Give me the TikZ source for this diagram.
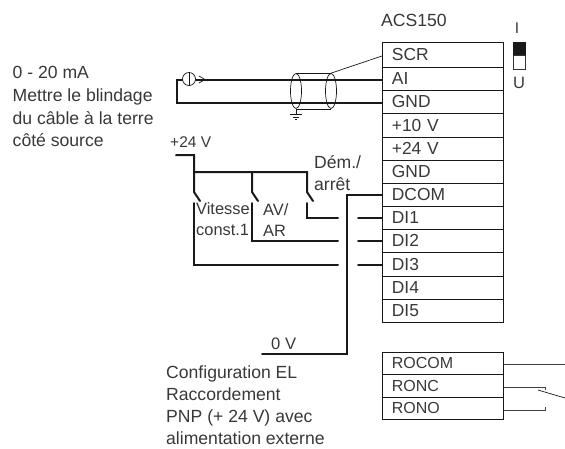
\documentclass[tikz,border=0pt]{standalone}
\usepackage{fontspec}
\usetikzlibrary{shapes.geometric}
\setmainfont{Liberation Sans}
\begin{document}
\begin{tikzpicture}[x=1pt,y=-1pt,
  lab/.style={inner sep=0pt,anchor=base west,text=black!78,font=\fontsize{17.6}{22.6}\selectfont},
  mlab/.style={lab,align=left,anchor=north west},
  slab/.style={mlab,font=\fontsize{16.4}{21.5}\selectfont},
  term/.style={draw=black!90,line width=0.8pt,minimum width=121pt,inner sep=0pt,anchor=north west,text=black!78,font=\fontsize{17.4}{19}\selectfont,align=left,text width=102pt},
  relayterm/.style={term,font=\fontsize{16}{18}\selectfont},
  thick wire/.style={line width=2pt,black!90,line cap=round,line join=miter},
  thin wire/.style={line width=0.7pt,black!90},
  relay wire/.style={line width=1pt,black!75}]
\useasboundingbox (0,0) rectangle (565,448);
\foreach \n/\t/\y/\h in {scr/SCR/42/25,ai/AI/67/23,gnd/GND/90/23,ten/+10 V/113/24,tf/+24 V/137/23,gndb/GND/160/23,dcom/DCOM/183/23,dia/DI1/206/23,dib/DI2/229/23,dic/DI3/252/24,did/DI4/276/23,die/DI5/299/23}
  \node[term,minimum height=\h pt] (\n) at (382,\y) {\t};
\foreach \n/\t/\y/\h/\d in {rocom/ROCOM/352/22/-1.5,ronc/RONC/374/23/0,rono/RONO/397/22/1}
  \node[relayterm,minimum height=\h pt] (\n) at (382,\y) {\raisebox{\d pt}{\t}};
\node[lab] (acs) at (381,26) {ACS150};
\node[lab,anchor=base,font=\fontsize{15.5}{18}\selectfont] (i) at (517,33) {I};
\node[lab,anchor=base,font=\fontsize{16.5}{18}\selectfont] (u) at (519,88) {U};
\node[draw=black!90,fill=black!90,line width=0.6pt,minimum width=12pt,minimum height=13pt,inner sep=0pt,anchor=north west] (swa) at (513,42) {};
\node[draw=black!80,line width=0.8pt,minimum width=12pt,minimum height=14pt,inner sep=0pt,anchor=north west] (swb) at (513,55) {};
\node[mlab] (desc) at (12.5,66.5) {0 - 20 mA\\Mettre le blindage\\du câble à la terre\\côté source};
\node[lab,font=\fontsize{15.5}{18}\selectfont] (pv) at (170,147) {+24 V};
\node[mlab] (dem) at (314,155) {Dém./\\arrêt};
\node[slab] (vit) at (196,202) {Vitesse\\const.1};
\node[slab] (avar) at (263,203) {AV/\\AR};
\node[lab,font=\fontsize{16.6}{18}\selectfont] (zv) at (271,349) {0 V};
\node[mlab,font=\fontsize{17.6}{22}\selectfont] (conf) at (166,365.5) {Configuration EL\\Raccordement\\PNP (+ 24 V) avec\\alimentation externe};
% current loop
\coordinate (ls) at (177,80);
\coordinate (lg) at (177,102.5);
\draw[thick wire] (ai.west |- ls) -- (ls) -- (lg) -- (gnd.west |- lg);
\node[circle,draw=black!90,fill=white,line width=0.7pt,minimum size=13pt,inner sep=0pt] (src) at (189,79) {};
\draw[thin wire] (src.north) -- (src.south);
\coordinate (ah) at (205,79.5);
\draw[thin wire] (199,76) -- (ah) -- (199,83);
% shield
\node[ellipse,draw=black!90,line width=0.7pt,minimum width=11pt,minimum height=35pt,inner sep=0pt] (ca) at (296,91) {};
\node[ellipse,draw=black!90,line width=0.7pt,minimum width=11pt,minimum height=35pt,inner sep=0pt] (cb) at (331,91) {};
\draw[thin wire] (ca.north) -- (cb.north);
\draw[thin wire] (ca.south) -- (cb.south);
\draw[thin wire] (cb.north) -- (scr.west |- 0,56);
\coordinate (ga) at (296,114);
\draw[thin wire] (ca.south) -- (ga);
\draw[thin wire] (290,114) -- (302,114) (293,117) -- (299,117) (295,119.5) -- (297,119.5);
% switches
\coordinate (pa) at (176,155);
\coordinate (pb) at (194,155);
\coordinate (ja) at (194,172);
\coordinate (jb) at (252,172);
\coordinate (jc) at (307,172);
\coordinate (sa) at (194,192);
\coordinate (sb) at (252,192);
\coordinate (sc) at (307,192);
\draw[thick wire] (pa) -- (pb) -- (sa) -- (200,201);
\draw[thick wire] (ja) -- (jc) -- (sc) -- (313,201);
\draw[thick wire] (jb) -- (sb) -- (258,201);
\draw[thick wire] (307,203) -- (307,218) -- (338,218);
\draw[thick wire] (358,218) -- (dia.west |- 0,218);
\draw[thick wire] (252,203) -- (252,241) -- (338,241);
\draw[thick wire] (358,241) -- (dib.west |- 0,241);
\draw[thick wire] (194,203) -- (194,264.5) -- (338,264.5);
\draw[thick wire] (358,264.5) -- (dic.west |- 0,264.5);
\coordinate (c0) at (262,354);
\coordinate (c1) at (347,354);
\coordinate (c2) at (347,195);
\draw[thick wire] (dcom.west |- c2) -- (c2) -- (c1) -- (c0);
% relay
\coordinate (ra) at (565,364);
\coordinate (rb) at (545,387);
\coordinate (rc) at (545,410);
\draw[relay wire] (rocom.east |- ra) -- (ra);
\draw[relay wire] (ronc.east |- rb) -- (rb) -- (545,389.5);
\draw[relay wire] (rono.east |- rc) -- (rc) -- (545,407);
\draw[thin wire] (538,390) -- (565,398);
\end{tikzpicture}
\end{document}
